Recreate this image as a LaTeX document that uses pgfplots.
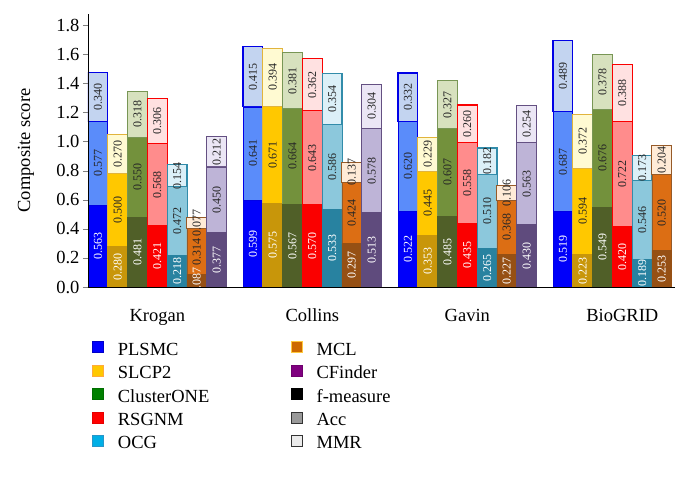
\documentclass[border=0pt]{standalone}
\usepackage{fontspec}
\setmainfont{Liberation Serif}
\usepackage{pgfplots}
\usepackage{pgfplotstable}
\pgfplotsset{compat=1.18}

% segment colours: F = f-measure, A = Acc, M = MMR, E = edge
\definecolor{plF}{RGB}{0,0,250}     \definecolor{plA}{RGB}{90,140,250}  \definecolor{plM}{RGB}{195,212,240} \definecolor{plE}{RGB}{0,0,230}
\definecolor{slF}{RGB}{200,150,10}  \definecolor{slA}{RGB}{255,200,0}   \definecolor{slM}{RGB}{255,250,210} \definecolor{slE}{RGB}{225,180,60}
\definecolor{clF}{RGB}{80,95,40}    \definecolor{clA}{RGB}{115,145,60}  \definecolor{clM}{RGB}{215,225,190} \definecolor{clE}{RGB}{120,150,85}
\definecolor{rsF}{RGB}{250,0,0}     \definecolor{rsA}{RGB}{255,140,140} \definecolor{rsM}{RGB}{255,225,225} \definecolor{rsE}{RGB}{250,0,0}
\definecolor{ocF}{RGB}{40,130,160}  \definecolor{ocA}{RGB}{140,200,220} \definecolor{ocM}{RGB}{220,240,248} \definecolor{ocE}{RGB}{50,140,170}
\definecolor{mcF}{RGB}{150,80,20}   \definecolor{mcA}{RGB}{220,110,20}  \definecolor{mcM}{RGB}{255,235,215} \definecolor{mcE}{RGB}{150,90,40}
\definecolor{cfF}{RGB}{95,75,125}   \definecolor{cfA}{RGB}{190,180,215} \definecolor{cfM}{RGB}{235,230,245} \definecolor{cfE}{RGB}{100,80,130}

% x = bar position (group index + offset of the method), f, a (Acc), m (MMR)
\pgfplotstableread{
x f a m
-0.383 0.563 0.577 0.340
0.617 0.599 0.641 0.415
1.617 0.522 0.620 0.332
2.617 0.519 0.687 0.489
}\plsmc
\pgfplotstableread{
x f a m
-0.255 0.280 0.500 0.270
0.745 0.575 0.671 0.394
1.745 0.353 0.445 0.229
2.745 0.223 0.594 0.372
}\slcp
\pgfplotstableread{
x f a m
-0.128 0.481 0.550 0.318
0.872 0.567 0.664 0.381
1.872 0.485 0.607 0.327
2.872 0.549 0.676 0.378
}\clone
\pgfplotstableread{
x f a m
0.000 0.421 0.568 0.306
1.000 0.570 0.643 0.362
2.000 0.435 0.558 0.260
3.000 0.420 0.722 0.388
}\rsgnm
\pgfplotstableread{
x f a m
0.128 0.218 0.472 0.154
1.128 0.533 0.586 0.354
2.128 0.265 0.510 0.182
3.128 0.189 0.546 0.173
}\ocg
\pgfplotstableread{
x f a m
0.255 0.087 0.314 0.077
1.255 0.297 0.424 0.137
2.255 0.227 0.368 0.106
3.255 0.253 0.520 0.204
}\mcl
\pgfplotstableread{
x f a m
0.383 0.377 0.450 0.212
1.383 0.513 0.578 0.304
2.383 0.430 0.563 0.254
}\cfinder

\pgfplotsset{
  frame/.style={
    scale only axis, width=587pt, height=273pt,
    xmin=-0.447, xmax=3.34, ymin=0, ymax=1.88,
    font=\fontsize{18.5}{20}\selectfont,
    /pgf/number format/assume math mode=true,
  },
  bars/.style={
    frame, hide axis,
    ybar stacked, bar width=0.1277,
    point meta=explicit symbolic,
    nodes near coords={\pgfplotspointmeta},
    every node near coord/.append style={
      rotate=90, anchor=center,
      inner sep=0pt, text=black!85, font=\fontsize{12}{12}\selectfont},
    every axis plot/.append style={line width=0.8pt},
  },
  top/.style={line width=1.1pt},
}

\begin{document}
\begin{tikzpicture}
\begin{axis}[bars]
\addplot[fill=plF, draw=plE, nodes near coords style={text=white}] table[x=x,y=f,meta=f]{\plsmc};
\addplot[fill=plA, draw=plE] table[x=x,y=a,meta=a]{\plsmc};
\addplot[fill=plM, draw=plE, top] table[x=x,y=m,meta=m]{\plsmc};
\end{axis}
\begin{axis}[bars]
\addplot[fill=slF, draw=slF, nodes near coords style={text=white}] table[x=x,y=f,meta=f]{\slcp};
\addplot[fill=slA, draw=slE] table[x=x,y=a,meta=a]{\slcp};
\addplot[fill=slM, draw=slE, top] table[x=x,y=m,meta=m]{\slcp};
\end{axis}
\begin{axis}[bars]
\addplot[fill=clF, draw=clF, nodes near coords style={text=white}] table[x=x,y=f,meta=f]{\clone};
\addplot[fill=clA, draw=clE] table[x=x,y=a,meta=a]{\clone};
\addplot[fill=clM, draw=clE, top] table[x=x,y=m,meta=m]{\clone};
\end{axis}
\begin{axis}[bars]
\addplot[fill=rsF, draw=rsE, nodes near coords style={text=white}] table[x=x,y=f,meta=f]{\rsgnm};
\addplot[fill=rsA, draw=rsE] table[x=x,y=a,meta=a]{\rsgnm};
\addplot[fill=rsM, draw=rsE, top] table[x=x,y=m,meta=m]{\rsgnm};
\end{axis}
\begin{axis}[bars]
\addplot[fill=ocF, draw=ocF, nodes near coords style={text=white}] table[x=x,y=f,meta=f]{\ocg};
\addplot[fill=ocA, draw=ocE] table[x=x,y=a,meta=a]{\ocg};
\addplot[fill=ocM, draw=ocE, top] table[x=x,y=m,meta=m]{\ocg};
\end{axis}
\begin{axis}[bars]
\addplot[fill=mcF, draw=mcF, nodes near coords style={text=white}] table[x=x,y=f,meta=f]{\mcl};
\addplot[fill=mcA, draw=mcE] table[x=x,y=a,meta=a]{\mcl};
\addplot[fill=mcM, draw=mcE, top] table[x=x,y=m,meta=m]{\mcl};
\end{axis}
\begin{axis}[bars]
\addplot[fill=cfF, draw=cfF, nodes near coords style={text=white}] table[x=x,y=f,meta=f]{\cfinder};
\addplot[fill=cfA, draw=cfE] table[x=x,y=a,meta=a]{\cfinder};
\addplot[fill=cfM, draw=cfE, top] table[x=x,y=m,meta=m]{\cfinder};
\end{axis}
% axis lines, labels and legend
\begin{axis}[frame, name=ax,
  axis x line*=bottom, axis y line*=left,
  axis line style={line width=0.8pt},
  xtick={0,1,2,3}, xticklabels={Krogan,Collins,Gavin,BioGRID},
  x tick style={draw=none},
  xticklabel style={yshift=-13pt, text height=13pt, text depth=4pt},
  ytick={0,0.2,0.4,0.6,0.8,1.0,1.2,1.4,1.6,1.8},
  yticklabel style={/pgf/number format/.cd, fixed, fixed zerofill, precision=1},
  tick align=outside, ytick pos=left, major tick length=5pt,
  y tick style={line width=0.6pt},
  ylabel={Composite score},
  every axis y label/.style={at={(rel axis cs:0,0.5)}, xshift=-62pt, rotate=90, anchor=center},
  legend columns=2, legend cell align=left,
  legend style={draw=none, fill=none, at={(0,0)}, anchor=north west,
    xshift=4pt, yshift=-54pt, inner sep=0pt, row sep=4.4pt,
    nodes={inner sep=1pt, text height=13pt, text depth=4pt, text width=172pt, align=left},
    /tikz/every odd column/.style={column sep=13pt}},
  legend image code/.code={\draw[line width=0.7pt,#1] (0pt,-2pt) rectangle (11pt,9pt);},
]
\addlegendimage{fill={rgb,255:red,0;green,0;blue,255}, draw={rgb,255:red,0;green,0;blue,200}}
\addlegendentry{PLSMC}
\addlegendimage{fill={rgb,255:red,205;green,105;blue,0}, draw={rgb,255:red,255;green,200;blue,60}}
\addlegendentry{MCL}
\addlegendimage{fill={rgb,255:red,255;green,200;blue,0}, draw={rgb,255:red,255;green,170;blue,60}}
\addlegendentry{SLCP2}
\addlegendimage{fill={rgb,255:red,128;green,0;blue,128}, draw={rgb,255:red,110;green,0;blue,110}}
\addlegendentry{CFinder}
\addlegendimage{fill={rgb,255:red,0;green,128;blue,0}, draw={rgb,255:red,0;green,110;blue,0}}
\addlegendentry{ClusterONE}
\addlegendimage{fill=black, draw=black}
\addlegendentry{f-measure}
\addlegendimage{fill={rgb,255:red,255;green,0;blue,0}, draw={rgb,255:red,230;green,0;blue,0}}
\addlegendentry{RSGNM}
\addlegendimage{fill=black!40, draw=black!80}
\addlegendentry{Acc}
\addlegendimage{fill={rgb,255:red,0;green,175;blue,230}, draw={rgb,255:red,40;green,150;blue,200}}
\addlegendentry{OCG}
\addlegendimage{fill=black!8, draw=black!80}
\addlegendentry{MMR}
\end{axis}
\path ([xshift=-88pt,yshift=-203pt]ax.south west) rectangle ([xshift=16pt,yshift=14pt]ax.north east);
\end{tikzpicture}
\end{document}
